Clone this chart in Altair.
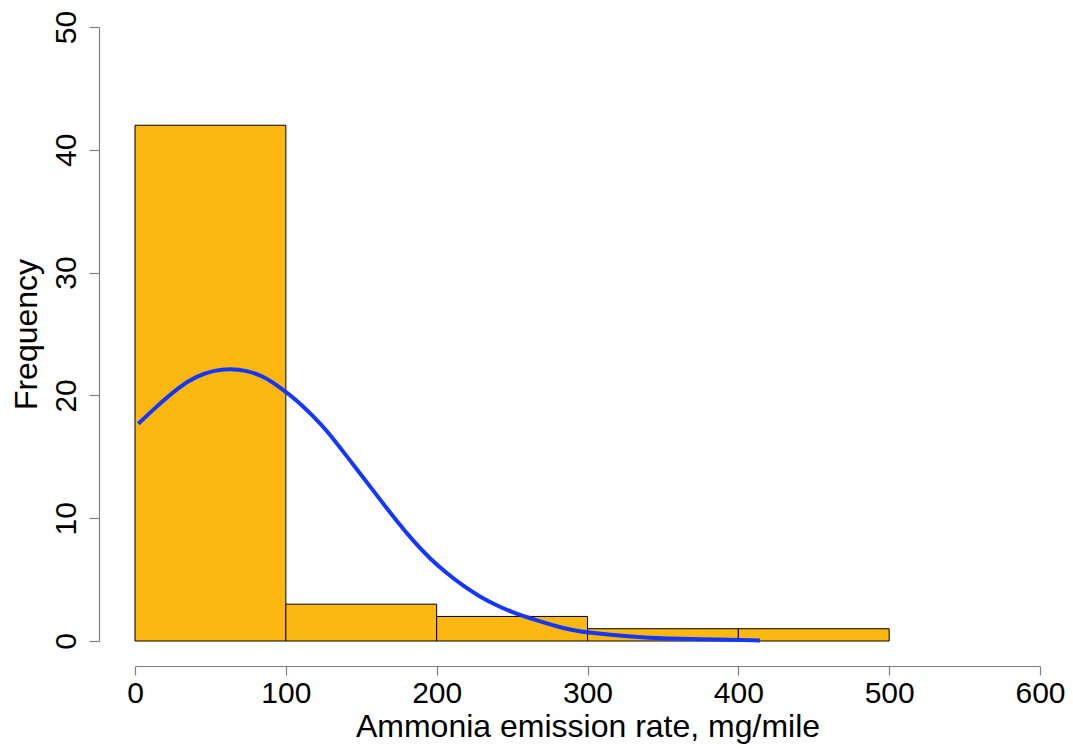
import altair as alt
import pandas as pd

# Histogram bins (mg/mile) and counts
bin_start = [0, 100, 200, 300, 400]
bin_end = [100, 200, 300, 400, 500]
counts = [42, 3, 2, 1, 1]

# Fitted curve
curve_x = [2.2, 13.3, 29.8, 40.9, 51.9, 63, 74, 85.1, 96.1, 107.2, 118.2, 127.1,
           140.3, 151.4, 162.4, 173.5, 184.5, 195.6, 206.7, 217.7, 228.7, 239.8,
           250.8, 264, 286, 300, 330, 352.5, 385.6, 414.4]
curve_y = [17.69, 18.99, 20.75, 21.57, 22.03, 22.19, 22.03, 21.57, 20.65, 19.62, 18.3, 17.15,
           15.06, 13.3, 11.53, 9.77, 8.14, 6.7, 5.51, 4.48, 3.6, 2.9,
           2.3, 1.77, 0.95, 0.68, 0.33, 0.19, 0.11, 0.05]

x_ticks = [0, 100, 200, 300, 400, 500, 600]
y_ticks = [0, 10, 20, 30, 40, 50]

bars_df = pd.DataFrame({"start": bin_start, "end": bin_end, "count": counts})
curve_df = pd.DataFrame({"x": curve_x, "y": curve_y})

FONT = "Liberation Sans"

x_scale = alt.Scale(domain=[0, 600], nice=False, zero=False)
y_scale = alt.Scale(domain=[0, 50], nice=False)

x_axis = alt.Axis(
    title="Ammonia emission rate, mg/mile",
    values=x_ticks, offset=25, tickSize=9, labelPadding=3,
    labelFontSize=30, labelFont=FONT, labelColor="black", labelFontWeight="normal",
    labelBaseline="top", labelFlush=False, labelOverlap=False,
    domainColor="#808080", tickColor="#808080", domainWidth=1.2, tickWidth=1.2,
    titleFontSize=32, titleFont=FONT, titleFontWeight="normal", titleColor="black",
    titleY=70, titleBaseline="alphabetic", grid=False,
)
y_axis = alt.Axis(
    title="Frequency",
    values=y_ticks, offset=36, tickSize=10, labelPadding=14,
    labelFontSize=30, labelFont=FONT, labelColor="black", labelAngle=-90,
    labelAlign="center", labelBaseline="alphabetic", labelFlush=False, labelOverlap=False,
    domainColor="#808080", tickColor="#808080", domainWidth=1.2, tickWidth=1.2,
    titleFontSize=32, titleFont=FONT, titleFontWeight="normal", titleColor="black",
    titleX=-63, titleBaseline="alphabetic", titleAngle=-90, grid=False,
)

bars = alt.Chart(bars_df).mark_rect(
    color="#FCB711", stroke="black", strokeWidth=1
).encode(
    x=alt.X("start:Q", scale=x_scale, axis=x_axis),
    x2="end:Q",
    y=alt.Y("count:Q", scale=y_scale, axis=y_axis),
    y2=alt.datum(0),
)

curve = alt.Chart(curve_df).mark_line(
    color="#1536FF", strokeWidth=4, interpolate="basis"
).encode(
    x=alt.X("x:Q", scale=x_scale),
    y=alt.Y("y:Q", scale=y_scale),
)

chart = alt.layer(bars, curve).properties(
    width=905, height=614,
    background="white",
    autosize=alt.AutoSizeParams(type="none"),
    padding={"left": 127, "top": 19, "right": 25, "bottom": 107},
).configure_view(strokeWidth=0, stroke="transparent")

chart.save("out.html", embed_options={"renderer": "svg", "actions": False})
